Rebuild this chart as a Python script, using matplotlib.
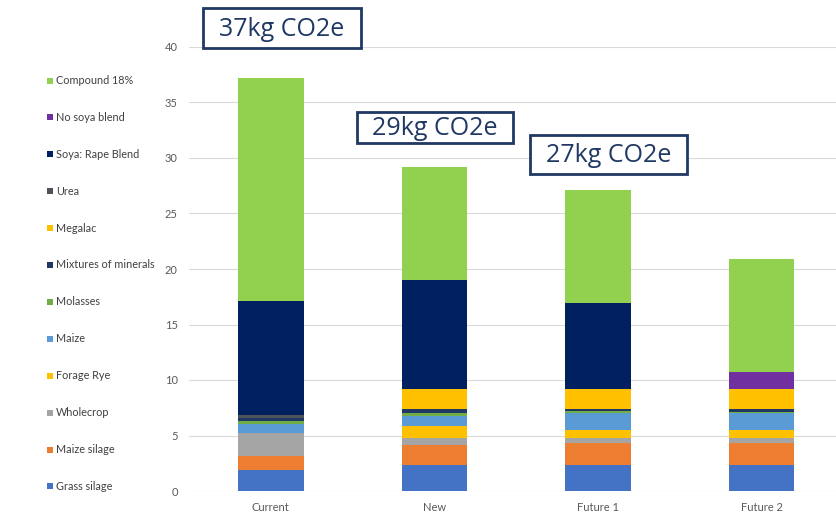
import matplotlib
matplotlib.use("Agg")
import matplotlib.pyplot as plt
from matplotlib.patches import Rectangle

plt.rcParams['font.family'] = ['Lato', 'DejaVu Sans']

scenarios = ["Current", "New", "Future 1", "Future 2"]

# Stacking order, bottom to top (kg CO2e per scenario)
grass_silage   = [1.90, 2.34, 2.34, 2.34]
maize_silage   = [1.25, 1.76, 2.01, 2.01]
wholecrop      = [2.10, 0.70, 0.40, 0.40]
forage_rye     = [0.00, 1.05, 0.75, 0.75]
maize          = [0.75, 0.90, 1.50, 1.50]
molasses       = [0.30, 0.30, 0.20, 0.15]
minerals       = [0.30, 0.30, 0.20, 0.25]
megalac        = [0.00, 1.85, 1.80, 1.80]
urea           = [0.25, 0.00, 0.00, 0.00]
soya_rape      = [10.25, 9.80, 7.75, 0.00]
no_soya        = [0.00, 0.00, 0.00, 1.55]
compound_18    = [20.10, 10.20, 10.15, 10.15]

series = [
    ("Grass silage", grass_silage, "#4472C4"),
    ("Maize silage", maize_silage, "#ED7D31"),
    ("Wholecrop", wholecrop, "#A5A5A5"),
    ("Forage Rye", forage_rye, "#FFC000"),
    ("Maize", maize, "#5B9BD5"),
    ("Molasses", molasses, "#70AD47"),
    ("Mixtures of minerals", minerals, "#203864"),
    ("Megalac", megalac, "#FFC000"),
    ("Urea", urea, "#4D5358"),
    ("Soya: Rape Blend", soya_rape, "#002060"),
    ("No soya blend", no_soya, "#7030A0"),
    ("Compound 18%", compound_18, "#92D050"),
]

totals_text = ["37kg CO2e", "29kg CO2e", "27kg CO2e"]

W, H = 837, 515
fig = plt.figure(figsize=(W / 100, H / 100), dpi=100)
ax = fig.add_axes([189 / W, (H - 491) / H, (W - 189) / W, 444 / H])

x = list(range(len(scenarios)))
bottom = [0.0] * len(scenarios)
for name, vals, color in series:
    ax.bar(x, vals, width=0.4, bottom=bottom, color=color, zorder=3)
    bottom = [b + v for b, v in zip(bottom, vals)]

ax.set_ylim(0, 40)
ax.set_xlim(-0.5, 3.46)
ax.set_yticks(range(0, 41, 5))
ax.set_xticks(x)
ax.set_xticklabels(scenarios)
ax.grid(axis="y", color="#D9D9D9", linewidth=0.8, zorder=0)
for s in ax.spines.values():
    s.set_visible(False)
ax.tick_params(axis="both", length=0, labelsize=8, colors="#595959", pad=8)
ax.tick_params(axis="y", pad=8)

# Legend column on the left, top entry = last stacked series
y0, step = 80.5, 36.9
for i, (name, vals, color) in enumerate(series[::-1]):
    yc = y0 + i * step
    fig.add_artist(Rectangle((47 / W, 1 - (yc + 3) / H), 6 / W, 6 / H,
                             transform=fig.transFigure, facecolor=color,
                             edgecolor="none"))
    fig.text(56 / W, 1 - yc / H, name, fontsize=7.8, color="#404040",
             ha="left", va="center")

# Emission total call-outs: (left, top, right, bottom) in pixels
boxes = [(203, 8, 361, 48), (357, 112, 513, 143), (530, 135, 687, 174)]
for (l, t, r, b), txt in zip(boxes, totals_text):
    fig.add_artist(Rectangle((l / W, 1 - b / H), (r - l) / W, (b - t) / H,
                             transform=fig.transFigure, facecolor="white",
                             edgecolor="#1F3864", linewidth=2, zorder=5))
    fig.text((l + r) / 2 / W, 1 - ((t + b) / 2 + 1) / H, txt, fontsize=18,
             color="#1F3864", family=["Open Sans", "DejaVu Sans"],
             ha="center", va="center", zorder=6)

fig.savefig("out.png", dpi=100)
